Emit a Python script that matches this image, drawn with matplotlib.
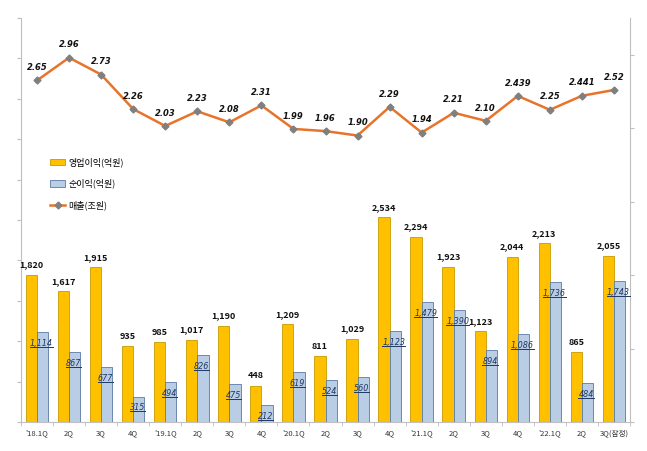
import matplotlib
matplotlib.use("Agg")
import matplotlib.pyplot as plt
from matplotlib.lines import Line2D
import numpy as np

plt.rcParams['font.family'] = ['Noto Sans CJK KR', 'DejaVu Sans']

categories = ["'18.1Q", "2Q", "3Q", "4Q", "'19.1Q", "2Q", "3Q", "4Q", "'20.1Q", "2Q",
              "3Q", "4Q", "'21.1Q", "2Q", "3Q", "4Q", "'22.1Q", "2Q", "3Q(잠정)"]
op_profit = [1820, 1617, 1915, 935, 985, 1017, 1190, 448, 1209, 811,
             1029, 2534, 2294, 1923, 1123, 2044, 2213, 865, 2055]
net_profit = [1114, 867, 677, 315, 494, 826, 475, 212, 619, 524,
              560, 1123, 1479, 1390, 894, 1086, 1736, 484, 1743]
sales = [2.65, 2.96, 2.73, 2.26, 2.03, 2.23, 2.08, 2.31, 1.99, 1.96,
         1.90, 2.29, 1.94, 2.21, 2.10, 2.439, 2.25, 2.441, 2.52]
sales_labels = ["2.65", "2.96", "2.73", "2.26", "2.03", "2.23", "2.08", "2.31", "1.99", "1.96",
                "1.90", "2.29", "1.94", "2.21", "2.10", "2.439", "2.25", "2.441", "2.52"]

fig = plt.figure(figsize=(6.47, 4.51), dpi=100)
ax = fig.add_axes([21/647, 29/451, 609/647, 404/451])
x = np.arange(len(categories))
w = 0.35
spine_c = '#BFBFBF'

b1 = ax.bar(x - w/2, op_profit, w, color='#FFC000', edgecolor='#C89A00', linewidth=0.6,
            label='영업이익(억원)', zorder=2)
b2 = ax.bar(x + w/2, net_profit, w, color='#B9CDE5', edgecolor='#5A7AA8', linewidth=0.6,
            label='순이익(억원)', zorder=2)
ax.set_xlim(-0.5, len(categories) - 0.5)
ax.set_ylim(0, 5000)
ax.set_yticks(np.arange(0, 5001, 500))
ax.tick_params(axis='y', labelleft=False, length=3, color=spine_c)
ax.set_xticks(x)
ax.set_xticklabels(categories, fontsize=5.5, color='#333333')
ax.set_xticks(np.arange(-0.5, len(categories), 1), minor=True)
ax.tick_params(axis='x', which='major', length=0, pad=5)
ax.tick_params(axis='x', which='minor', length=3, color=spine_c)
for s in ['left', 'bottom']:
    ax.spines[s].set_color(spine_c)
ax.spines['top'].set_visible(False)
ax.spines['right'].set_visible(False)

for xi, v in zip(x, op_profit):
    ax.annotate(f"{v:,}", (xi - w/2, v), xytext=(0, 4), textcoords='offset points',
                ha='center', va='bottom', fontsize=6.5, fontweight='bold', color='#111111')
net_texts = []
for xi, v in zip(x, net_profit):
    t = ax.annotate(f"{v:,}", (xi + w/2, v), xytext=(-1, -5), textcoords='offset points',
                    ha='center', va='top', fontsize=5.8, fontstyle='italic', color='#1F3864',
                    family='DejaVu Sans', zorder=4)
    net_texts.append(t)

ax2 = ax.twinx()
ax2.set_ylim(-2, 3.5)
ax2.set_yticks(np.arange(-2, 3.1, 1))
ax2.tick_params(axis='y', labelright=False, length=3, color=spine_c)
ax2.spines['right'].set_color(spine_c)
for s in ['left', 'top', 'bottom']:
    ax2.spines[s].set_visible(False)
l1, = ax2.plot(x, sales, color='#E8732A', linewidth=1.8, marker='D', markersize=3.5,
               markerfacecolor='#7F7F7F', markeredgecolor='#7F7F7F', label='매출(조원)', zorder=3)
for xi, v, t in zip(x, sales, sales_labels):
    ax2.annotate(t, (xi, v), xytext=(0, 6), textcoords='offset points', ha='center',
                 va='bottom', fontsize=6, fontweight='bold', fontstyle='italic', color='#111111',
                 family='DejaVu Sans')

leg = ax.legend(handles=[b1, b2, l1], loc='upper left', bbox_to_anchor=(0.035, 0.675),
                frameon=False, fontsize=6.5, handlelength=1.6, labelspacing=1.3,
                handletextpad=0.35)

# underline the net-profit labels
fig.canvas.draw()
inv = fig.transFigure.inverted()
for t in net_texts:
    bb = t.get_window_extent()
    (fx0, fy0), (fx1, fy1) = inv.transform([(bb.x0, bb.y0 + 1), (bb.x1, bb.y0 + 1)])
    fig.add_artist(Line2D([fx0, fx1], [fy0, fy1], color='#1F3864', linewidth=0.7,
                          transform=fig.transFigure, zorder=5))

fig.savefig('out.png', dpi=100)
